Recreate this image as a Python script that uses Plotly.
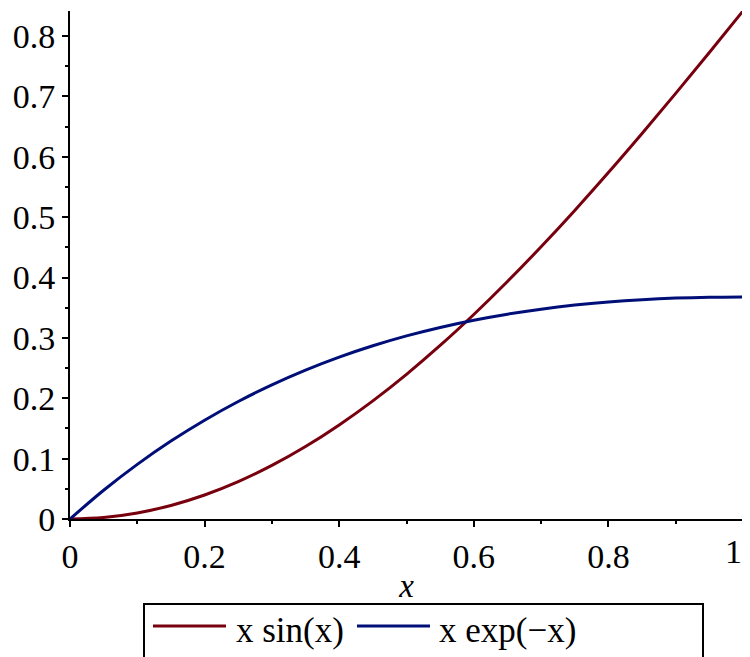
import plotly.graph_objects as go

# sample positions along x
x_vals = [0.0, 0.05, 0.1, 0.15, 0.2, 0.25, 0.3, 0.35, 0.4, 0.45, 0.5,
          0.55, 0.6, 0.65, 0.7, 0.75, 0.8, 0.85, 0.9, 0.95, 1.0]
# x sin(x)
y_sin = [0.0, 0.0025, 0.0100, 0.0224, 0.0397, 0.0619, 0.0887, 0.1200, 0.1558,
         0.1957, 0.2397, 0.2875, 0.3388, 0.3934, 0.4510, 0.5112, 0.5739,
         0.6386, 0.7050, 0.7727, 0.8415]
# x exp(-x)
y_exp = [0.0, 0.0476, 0.0905, 0.1291, 0.1637, 0.1947, 0.2222, 0.2466, 0.2681,
         0.2869, 0.3033, 0.3173, 0.3293, 0.3393, 0.3476, 0.3543, 0.3595,
         0.3633, 0.3659, 0.3674, 0.3679]

series_names = ["x sin(x)", "x exp(\u2212x)"]
series_colors = ["#78000E", "#000E78"]
x_ticks = [0, 0.2, 0.4, 0.6, 0.8, 1]
x_ticklabels = ["0", "0.2", "0.4", "0.6", "0.8", "1"]
y_ticks = [0, 0.1, 0.2, 0.3, 0.4, 0.5, 0.6, 0.7, 0.8]
y_ticklabels = ["0", "0.1", "0.2", "0.3", "0.4", "0.5", "0.6", "0.7", "0.8"]

FONT = "Liberation Serif"
OFF = 8  # page body margin
W, H = 750 - OFF, 657 - OFF
L, R, T, B = 70 - OFF, 7, 11 - OFF, 138

fig = go.Figure()
for ys, name, col in zip([y_sin, y_exp], series_names, series_colors):
    fig.add_trace(go.Scatter(x=x_vals, y=ys, mode="lines", name=name,
                             line=dict(color=col, width=3, shape="spline"),
                             showlegend=False, cliponaxis=False))

plot_w = W - L - R
plot_h = H - T - B

def px_x(p):
    return (p - OFF - L) / plot_w

def px_y(p):
    return (H - B - (p - OFF)) / plot_h

# legend box (cut off at the bottom, as in the reference)
fig.add_shape(type="rect", xref="paper", yref="paper",
              x0=px_x(144), x1=px_x(703), y0=px_y(700), y1=px_y(604),
              line=dict(color="black", width=2), fillcolor="rgba(0,0,0,0)")
leg_items = [(153, 226, 234), (357, 430, 437)]
for (lx0, lx1, tx), name, col in zip(leg_items, series_names, series_colors):
    fig.add_shape(type="line", xref="paper", yref="paper",
                  x0=px_x(lx0), x1=px_x(lx1), y0=px_y(626), y1=px_y(626),
                  line=dict(color=col, width=3))
    fig.add_annotation(text=name, xref="paper", yref="paper",
                       x=px_x(tx), y=px_y(630), xanchor="left", yanchor="middle",
                       showarrow=False, font=dict(family=FONT, size=35, color="black"))

# the last x tick label sits at the right edge of the page: anchor it from the right so it stays visible
shown_ticktext = x_ticklabels[:-1] + [""]
fig.add_annotation(text=x_ticklabels[-1], xref="x", yref="paper",
                   x=x_ticks[-1], y=px_y(551), xanchor="right", yanchor="middle",
                   xshift=1, showarrow=False, font=dict(family=FONT, size=34, color="black"))

axis_common = dict(showgrid=False, zeroline=False, showline=True, linecolor="black",
                   linewidth=2, ticks="outside", ticklen=6, tickwidth=1.5,
                   tickcolor="black", ticklabeloverflow="allow",
                   tickfont=dict(family=FONT, size=34, color="black"))

fig.update_xaxes(range=[0, 1], tickvals=x_ticks, ticktext=shown_ticktext,
                 minor=dict(ticks="outside", dtick=0.1, ticklen=3, tickcolor="black", tickwidth=1.5),
                 title=dict(text="<i>x</i>", font=dict(family=FONT, size=33, color="black"), standoff=0),
                 **axis_common)
fig.update_yaxes(range=[0, 0.8415], tickvals=y_ticks, ticktext=y_ticklabels,
                 minor=dict(ticks="outside", dtick=0.05, ticklen=3, tickcolor="black", tickwidth=1.5),
                 **axis_common)

fig.update_layout(width=W, height=H, margin=dict(l=L, r=R, t=T, b=B, autoexpand=False),
                  plot_bgcolor="white", paper_bgcolor="white", showlegend=False)

fig.write_html("out.html")
